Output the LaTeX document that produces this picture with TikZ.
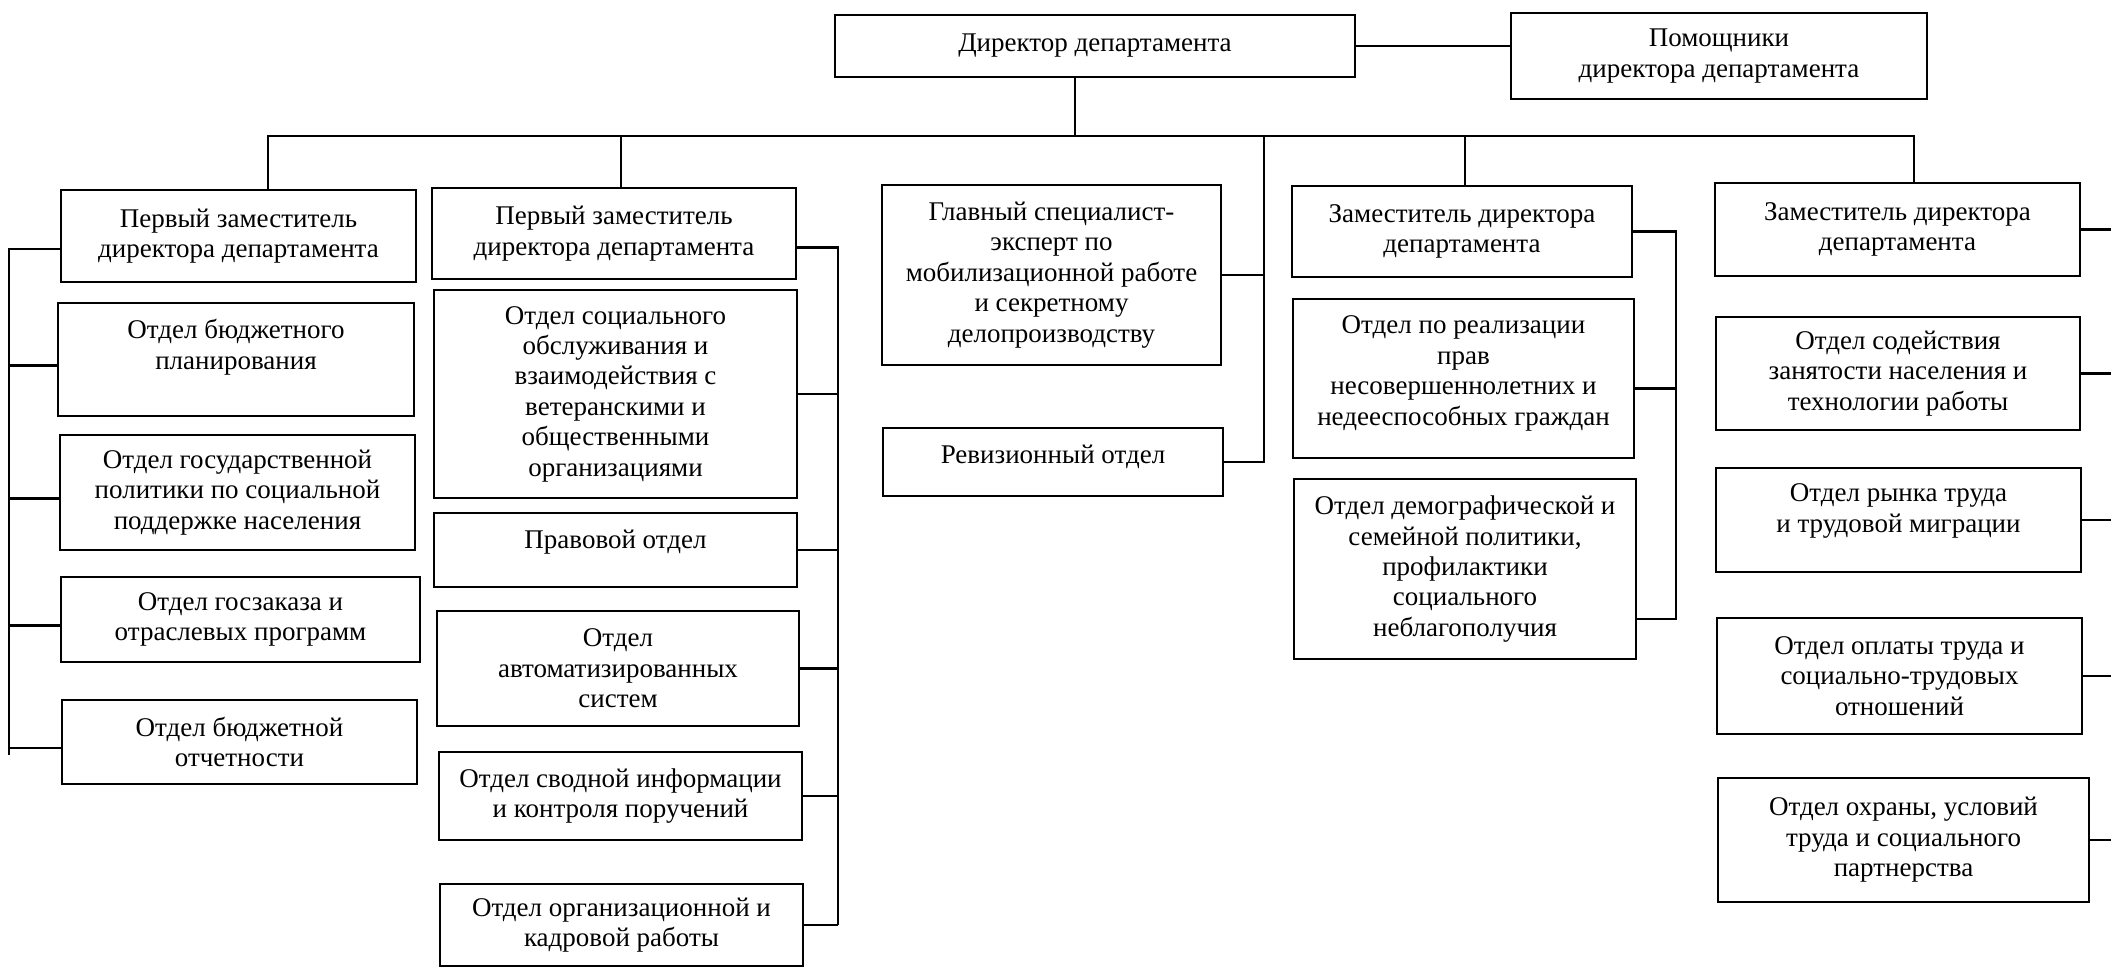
\documentclass[tikz,border=0pt]{standalone}
\usepackage{fontspec}
\setmainfont{Liberation Serif}
\usetikzlibrary{positioning}

\tikzset{
    box/.style={draw, line width=1.4pt, align=center, inner sep=2pt,
        font=\fontsize{13.5}{15.2}\selectfont},
    wh/.style 2 args={minimum width=#1*0.5pt, minimum height=#2*0.5pt},
    lift/.style={text depth=#1}
}

\begin{document}
\begin{tikzpicture}[x=0.5pt, y=-0.5pt, line width=1.4pt]
\useasboundingbox (0,0) rectangle (2111,967);

% top level
\node [box, wh={520}{62}] (dir) at (1095,46) {Директор департамента};
\node [box, wh={416}{86}] (pom) at (1719,56) {Помощники\\директора департамента};

% first column
\node [box, wh={355}{92}] (z1) at (238.5,236) {Первый заместитель\\директора департамента};
\node [box, wh={356}{113}, lift=15pt] (b11) at (236,359.5) {Отдел бюджетного\\планирования};
\node [box, wh={355}{115}] (b12) at (237.5,492.5) {Отдел государственной\\политики по социальной\\поддержке населения};
\node [box, wh={359}{85}] (b13) at (240.5,619.5) {Отдел госзаказа и\\отраслевых программ};
\node [box, wh={355}{84}] (b14) at (239.5,742) {Отдел бюджетной\\отчетности};

% second column
\node [box, wh={364}{91}] (z2) at (614,233.5) {Первый заместитель\\директора департамента};
\node [box, wh={363}{208}] (b21) at (615.5,394) {Отдел социального\\обслуживания и\\взаимодействия с\\ветеранскими и\\общественными\\организациями};
\node [box, wh={363}{74}, lift=10.5pt] (b22) at (615.5,550) {Правовой отдел};
\node [box, wh={362}{115}] (b23) at (618,668.5) {Отдел\\автоматизированных\\систем};
\node [box, wh={363}{88}] (b24) at (620.5,796) {Отдел сводной информации\\и контроля поручений};
\node [box, wh={363}{82}] (b25) at (621.5,925) {Отдел организационной и\\кадровой работы};

% third column
\node [box, wh={339}{180}] (g) at (1051.5,275) {Главный специалист-\\эксперт по\\мобилизационной работе\\и секретному\\делопроизводству};
\node [box, wh={340}{68}, lift=7.5pt] (rev) at (1053,462) {Ревизионный отдел};

% fourth column
\node [box, wh={340}{91}] (z4) at (1462,231.5) {Заместитель директора\\департамента};
\node [box, wh={341}{159}, lift=8pt] (b41) at (1463.5,378.5) {Отдел по реализации\\прав\\несовершеннолетних и\\недееспособных граждан};
\node [box, wh={342}{180}] (b42) at (1465,569) {Отдел демографической и\\семейной политики,\\профилактики\\социального\\неблагополучия};

% fifth column
\node [box, wh={365}{93}] (z5) at (1897.5,229.5) {Заместитель директора\\департамента};
\node [box, wh={364}{113}] (b51) at (1898,373.5) {Отдел содействия\\занятости населения и\\технологии работы};
\node [box, wh={365}{104}, lift=12pt] (b52) at (1898.5,520) {Отдел рынка труда\\и трудовой миграции};
\node [box, wh={365}{116}] (b53) at (1899.5,676) {Отдел оплаты труда и\\социально-трудовых\\отношений};
\node [box, wh={371}{124}] (b54) at (1903.5,840) {Отдел охраны, условий\\труда и социального\\партнерства};

% bus and spines
\coordinate (busL) at (268,136);
\coordinate (busR) at (1914,136);
\coordinate (sp1) at (9,755);
\coordinate (sp2) at (838,0);
\coordinate (sp3) at (1264,0);
\coordinate (sp4) at (1676,0);
\coordinate (sp5) at (2111,0);
\coordinate (b42x) at ([yshift=-25pt]b42.east);

\draw (dir.east) -- (dir.east -| pom.west);
\draw ([xshift=-10pt]dir.south) -- ([xshift=-10pt]dir.south |- busL);
\draw (busL |- z1.north) -- (busL) -- (busR) -- (busR |- z5.north);
\draw ([xshift=3.5pt]z2.north) -- ([xshift=3.5pt]z2.north |- busL);
\draw ([xshift=1.5pt]z4.north) -- ([xshift=1.5pt]z4.north |- busL);

% first column links
\draw ([yshift=-6.5pt]z1.west) -| (sp1);
\foreach \b in {b11,b12,b13,b14}
    \draw ([yshift=-3pt]\b.west) -- ([yshift=-3pt]\b.west -| sp1);

% second column links
\draw ([yshift=-7pt]z2.east) -| (sp2 |- b25.east);
\foreach \b in {b21,b22,b23,b24,b25}
    \draw (\b.east) -- (\b.east -| sp2);

% third column links
\draw (sp3 |- busL) -- (sp3 |- rev.east) -- (rev.east);
\draw (g.east) -- (g.east -| sp3);

% fourth column links
\draw (z4.east) -| (sp4 |- b42x) -- (b42x);
\draw ([yshift=-5pt]b41.east) -- ([yshift=-5pt]b41.east -| sp4);

% fifth column links
\foreach \b in {z5,b51,b52,b53,b54}
    \draw (\b.east) -- (\b.east -| sp5);
\end{tikzpicture}
\end{document}
